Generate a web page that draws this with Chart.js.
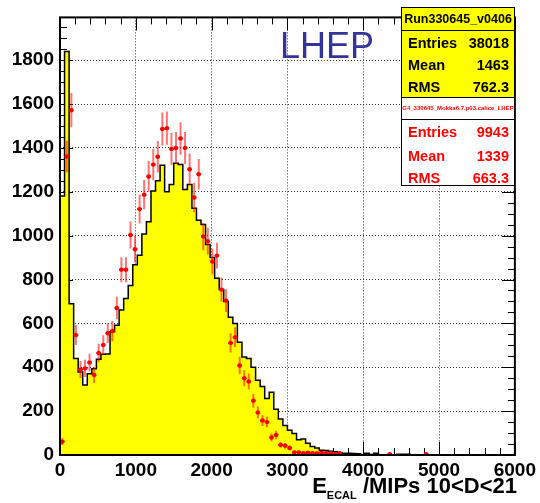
<!DOCTYPE html>
<html>
<head>
<meta charset="utf-8">
<script src="https://cdn.jsdelivr.net/npm/chart.js@4.4.1/dist/chart.umd.min.js"></script>
<style>
  html, body { margin: 0; padding: 0; background: #fff; }
  #wrap { position: relative; width: 540px; height: 503px; font-family: "Liberation Sans", Arial, sans-serif; }
  #c { position: absolute; left: 0; top: 0; }
  .box { position: absolute; box-sizing: border-box; border: 1px solid #000; }
  .row { position: absolute; left: 6px; right: 5px; height: 20px; line-height: 20px; font-size: 14.5px; font-weight: bold; }
  .row span { position: absolute; right: 0; }
  .ttl { position: absolute; left: 0; right: 0; text-align: center; font-weight: bold; }
  #lhep { position: absolute; left: 280px; top: 28px; font-size: 36px; line-height: 36px; color: #333399; }
  #xtitle { position: absolute; right: 23px; top: 473px; font-size: 22px; font-weight: bold; white-space: nowrap; }
  #xtitle sub { font-size: 11px; vertical-align: -6px; }
</style>
</head>
<body>
<div id="wrap">
  <canvas id="c" width="540" height="503"></canvas>
  <div id="lhep">LHEP</div>

  <div class="box" style="left:401px; top:7px; width:114px; height:91px; background:#ffff00;">
    <div class="ttl" style="top:0; height:22px; line-height:22px; font-size:12.5px; border-bottom:1px solid #000;">Run330645_v0406</div>
    <div class="row" style="top:25px;">Entries<span>38018</span></div>
    <div class="row" style="top:47px;">Mean<span>1463</span></div>
    <div class="row" style="top:69px;">RMS<span>762.3</span></div>
  </div>
  <div class="box" style="left:401px; top:97px; width:114px; height:23px; background:#fff;">
    <div class="ttl" style="top:0; height:21px; line-height:21px; font-size:6px; color:#ff0000;">G4_330645_Mokka6.7.p03.calice_LHEP</div>
  </div>
  <div class="box" style="left:401px; top:119px; width:114px; height:67px; background:#fff; color:#ff0000;">
    <div class="row" style="top:2px;">Entries<span>9943</span></div>
    <div class="row" style="top:26px;">Mean<span>1339</span></div>
    <div class="row" style="top:48px;">RMS<span>663.3</span></div>
  </div>

  <div id="xtitle">E<sub>ECAL</sub> /MIPs 10&lt;D&lt;21</div>
</div>

<script>
// histogram binning (MIPs)
const binWidth = 60;

// axis tick labels
const xTickValues = [0, 1000, 2000, 3000, 4000, 5000, 6000];
const yTickValues = [0, 200, 400, 600, 800, 1000, 1200, 1400, 1600, 1800];

// Run330645_v0406 (yellow histogram), 100 bins from 0 to 6000
const runCounts = [
  46, 1181, 1840, 690, 440, 378, 319, 370, 393, 437,
  459, 460, 562, 592, 661, 713, 773, 867, 911, 1007,
  1063, 1203, 1250, 1321, 1200, 1233, 1330, 1324, 1210, 1233,
  1125, 1070, 1051, 960, 900, 806, 755, 700, 628, 599,
  514, 447, 440, 400, 341, 312, 258, 286, 209, 164,
  135, 113, 98, 69, 73, 54, 39, 32, 22, 20,
  17, 15, 10, 8, 8, 7, 6, 2, 8, 2,
  8, 1, 0, 1, 0, 3, 3, 3, 0, 0,
  0, 0, 0, 0, 0, 0, 0, 0, 0, 0,
  0, 0, 0, 0, 0, 0, 0, 0, 0, 0
];

// G4 Mokka LHEP simulation (red points), same bins
const simCounts = [
  61, 1361, 1572, 547, 389, 395, 422, 365, 465, 502,
  555, 565, 670, 845, 845, 1003, 938, 1121, 1187, 1270,
  1324, 1360, 1486, 1490, 1395, 1400, 1443, 1400, 1303, 1174,
  1280, 996, 975, 882, 909, 754, 704, 511, 537, 408,
  350, 335, 247, 194, 157, 150, 80, 91, 46, 42,
  32, 12, 12, 8, 11, 8, 8, 11, 8, 8,
  4, 8, 0, 0, 0, 0, 0, 0, 0, 0,
  0, 0, 4, 0, 0, 0, 0, 0, 0, 0,
  4, 0, 0, 0, 0, 0, 0, 0, 0, 0,
  0, 0, 0, 0, 0, 0, 0, 0, 0, 0
];

// error bar half-lengths of the simulation points
const simErrors = [
  15, 72, 78, 46, 39, 39, 40, 37, 42, 44,
  46, 46, 51, 57, 57, 62, 60, 66, 67, 70,
  71, 72, 75, 76, 73, 73, 74, 73, 71, 67,
  70, 62, 61, 58, 59, 54, 52, 44, 45, 40,
  37, 36, 31, 27, 25, 24, 18, 19, 13, 13,
  11, 7, 7, 6, 7, 6, 6, 7, 6, 6,
  4, 6, 0, 0, 0, 0, 0, 0, 0, 0,
  0, 0, 4, 0, 0, 0, 0, 0, 0, 0,
  4, 0, 0, 0, 0, 0, 0, 0, 0, 0,
  0, 0, 0, 0, 0, 0, 0, 0, 0, 0
];

const xMax = 6000;
const yMax = 1995;

// step outline of the histogram: one point per low bin edge
const histPoints = [{ x: 0, y: 0 }];
runCounts.forEach((v, i) => histPoints.push({ x: i * binWidth, y: v }));
histPoints.push({ x: runCounts.length * binWidth, y: 0 });

// empty bins are not drawn as points
const simPoints = [];
simCounts.forEach((v, i) => {
  if (v > 0) simPoints.push({ x: (i + 0.5) * binWidth, y: v, err: simErrors[i] });
});

const labelFont = { family: "Liberation Sans", size: 19, weight: "bold" };

// vertical error bars + horizontal bin-width bars, under the markers
const errorBars = {
  id: "errorBars",
  beforeDatasetDraw(chart, args) {
    if (args.index !== 1) return;
    const { ctx, chartArea: a, scales: { x, y } } = chart;
    ctx.save();
    ctx.beginPath();
    ctx.rect(a.left, a.top, a.width, a.height);
    ctx.clip();
    chart.data.datasets[1].data.forEach(p => {
      const px = x.getPixelForValue(p.x);
      const py = y.getPixelForValue(p.y);
      ctx.strokeStyle = "rgba(255,0,0,0.55)";
      ctx.lineWidth = 2;
      ctx.beginPath();
      ctx.moveTo(px, y.getPixelForValue(p.y - p.err));
      ctx.lineTo(px, y.getPixelForValue(p.y + p.err));
      ctx.stroke();
      ctx.strokeStyle = "#ff0000";
      ctx.beginPath();
      ctx.moveTo(x.getPixelForValue(p.x - binWidth / 2), py);
      ctx.lineTo(x.getPixelForValue(p.x + binWidth / 2), py);
      ctx.stroke();
    });
    ctx.restore();
  }
};

// ROOT-like inner ticks on all four sides, then the frame on top
const frame = {
  id: "frame",
  beforeDatasetsDraw(chart) {
    const { ctx, chartArea: a, scales: { x, y } } = chart;
    ctx.save();
    ctx.strokeStyle = "#000";
    ctx.lineWidth = 1;
    ctx.beginPath();
    for (let v = 0; v <= xMax; v += 200) {
      const px = Math.round(x.getPixelForValue(v)) + 0.5;
      const len = v % 1000 === 0 ? 13 : 7;
      ctx.moveTo(px, a.bottom); ctx.lineTo(px, a.bottom - len);
      ctx.moveTo(px, a.top); ctx.lineTo(px, a.top + len);
    }
    for (let v = 0; v <= yMax; v += 50) {
      const py = Math.round(y.getPixelForValue(v)) + 0.5;
      const len = v % 200 === 0 ? 13 : 7;
      ctx.moveTo(a.left, py); ctx.lineTo(a.left + len, py);
      ctx.moveTo(a.right, py); ctx.lineTo(a.right - len, py);
    }
    ctx.stroke();
    ctx.restore();
  },
  afterDatasetsDraw(chart) {
    const { ctx, chartArea: a } = chart;
    ctx.save();
    ctx.strokeStyle = "#000";
    ctx.lineWidth = 2;
    ctx.strokeRect(a.left, a.top, a.width, a.height);
    ctx.restore();
  }
};

const gridColor = (ctx, max) =>
  (ctx.tick && (ctx.tick.value === 0 || ctx.tick.value >= max)) ? "rgba(0,0,0,0)" : "#333";

new Chart(document.getElementById("c"), {
  type: "scatter",
  data: {
    datasets: [
      {
        type: "line",
        data: histPoints,
        stepped: "after",
        fill: "origin",
        backgroundColor: "#ffff00",
        borderColor: "#000",
        borderWidth: 1.5,
        pointRadius: 0,
        order: 2
      },
      {
        type: "scatter",
        data: simPoints,
        pointRadius: 2.2,
        pointBackgroundColor: "#ff0000",
        pointBorderWidth: 0,
        order: 1
      }
    ]
  },
  options: {
    responsive: false,
    animation: false,
    devicePixelRatio: 1,
    layout: { padding: { top: 7, right: 25, left: 0, bottom: 0 } },
    plugins: { legend: { display: false }, tooltip: { enabled: false } },
    scales: {
      x: {
        type: "linear",
        min: 0,
        max: xMax,
        afterFit: s => { s.height = 48; },
        afterBuildTicks: s => { s.ticks = xTickValues.map(v => ({ value: v })); },
        ticks: {
          autoSkip: false,
          maxRotation: 0,
          padding: 4,
          color: "#000",
          font: labelFont,
          callback: v => String(v)
        },
        grid: { drawTicks: false, lineWidth: 1, color: c => gridColor(c, xMax) },
        border: { display: false, dash: [1, 2] }
      },
      y: {
        type: "linear",
        min: 0,
        max: yMax,
        afterFit: s => { s.width = 60; },
        afterBuildTicks: s => { s.ticks = yTickValues.map(v => ({ value: v })); },
        ticks: {
          autoSkip: false,
          padding: 6,
          color: "#000",
          font: labelFont,
          callback: v => String(v)
        },
        grid: { drawTicks: false, lineWidth: 1, color: c => gridColor(c, yMax) },
        border: { display: false, dash: [1, 2] }
      }
    }
  },
  plugins: [errorBars, frame]
});
</script>
</body>
</html>
